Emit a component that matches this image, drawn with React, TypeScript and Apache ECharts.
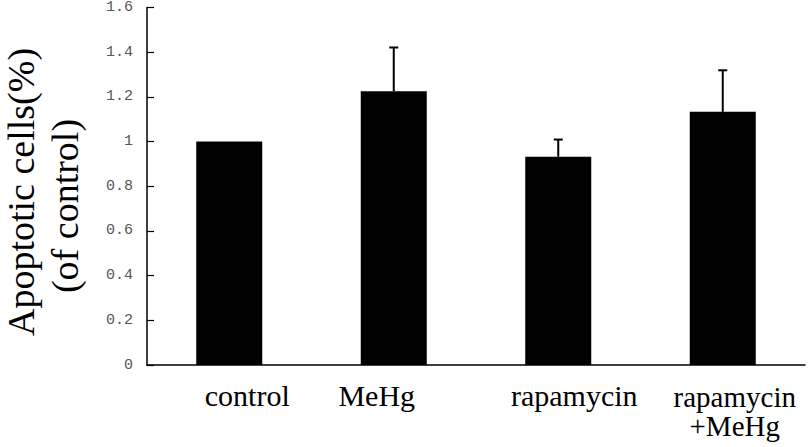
import React, { useEffect, useRef } from "react";
import * as echarts from "echarts";

const categories = ["control", "MeHg", "rapamycin", "rapamycin\n+MeHg"];
const means = [1.0, 1.225, 0.932, 1.133];
const errors = [0, 0.196, 0.077, 0.186];
const yTicks = { min: 0, max: 1.6, interval: 0.2 };
const yTitle = ["Apoptotic cells(%)", "(of control)"];
const labelShift = [18, -17, 16, 12];

export default function App() {
  const ref = useRef<HTMLDivElement>(null);
  useEffect(() => {
    if (!ref.current) return;
    const chart = echarts.init(ref.current, null, { renderer: "svg" });
    const richKeys = ["a", "b", "c", "d"];
    const rich: any = {};
    labelShift.forEach((s, i) => {
      rich[richKeys[i]] = {
        fontFamily: "Liberation Serif",
        fontSize: i === 3 ? 29 : 30,
        lineHeight: i === 3 ? 29 : 26,
        color: "#000",
        padding: s >= 0 ? [0, 0, 0, 2 * s] : [0, -2 * s, 0, 0],
      };
    });
    chart.setOption({
      animation: false,
      grid: { left: 147, right: 5, top: 6, bottom: 82 },
      xAxis: {
        type: "category",
        data: categories,
        boundaryGap: true,
        axisLine: { lineStyle: { color: "#000", width: 1.5 } },
        axisTick: { inside: true, length: 5, lineStyle: { color: "#000", width: 1.2 } },
        axisLabel: {
          margin: 17,
          interval: 0,
          formatter: (v: string, i: number) =>
            v
              .split("\n")
              .map((line) => `{${richKeys[i]}|${line}}`)
              .join("\n"),
          rich,
        },
      },
      yAxis: {
        type: "value",
        min: yTicks.min,
        max: yTicks.max,
        interval: yTicks.interval,
        splitLine: { show: false },
        axisLine: { show: true, lineStyle: { color: "#000", width: 1.5 } },
        axisTick: { show: true, inside: true, length: 7, lineStyle: { color: "#000", width: 1.2 } },
        axisLabel: {
          margin: 14,
          fontFamily: "Liberation Mono",
          fontSize: 15,
          color: "#555",
        },
      },
      graphic: [
        {
          type: "text",
          x: 21,
          y: 192,
          rotation: Math.PI / 2,
          style: {
            text: yTitle[0],
            font: "38px 'Liberation Serif'",
            fill: "#000",
            align: "center",
            verticalAlign: "middle",
          },
        },
        {
          type: "text",
          x: 65,
          y: 206,
          rotation: Math.PI / 2,
          style: {
            text: yTitle[1],
            font: "38px 'Liberation Serif'",
            fill: "#000",
            align: "center",
            verticalAlign: "middle",
          },
        },
      ],
      series: [
        {
          type: "bar",
          data: means,
          barWidth: 66,
          itemStyle: { color: "#000" },
          z: 2,
        },
        {
          type: "custom",
          z: 3,
          data: means.map((m, i) => [i, m, m + errors[i]]),
          renderItem: (params: any, api: any) => {
            const x = api.value(0);
            const lo = api.coord([x, api.value(1)]);
            const hi = api.coord([x, api.value(2)]);
            if (Math.abs(lo[1] - hi[1]) < 0.5) return { type: "group", children: [] };
            return {
              type: "group",
              children: [
                {
                  type: "line",
                  shape: { x1: lo[0], y1: lo[1], x2: hi[0], y2: hi[1] },
                  style: { stroke: "#000", lineWidth: 2 },
                },
                {
                  type: "line",
                  shape: { x1: hi[0] - 4.5, y1: hi[1], x2: hi[0] + 4.5, y2: hi[1] },
                  style: { stroke: "#000", lineWidth: 2 },
                },
              ],
            };
          },
        },
      ],
    });
    return () => chart.dispose();
  }, []);
  return (
    <div
      ref={ref}
      style={{ position: "fixed", left: 0, top: 0, width: 810, height: 447, background: "#fff" }}
    />
  );
}
